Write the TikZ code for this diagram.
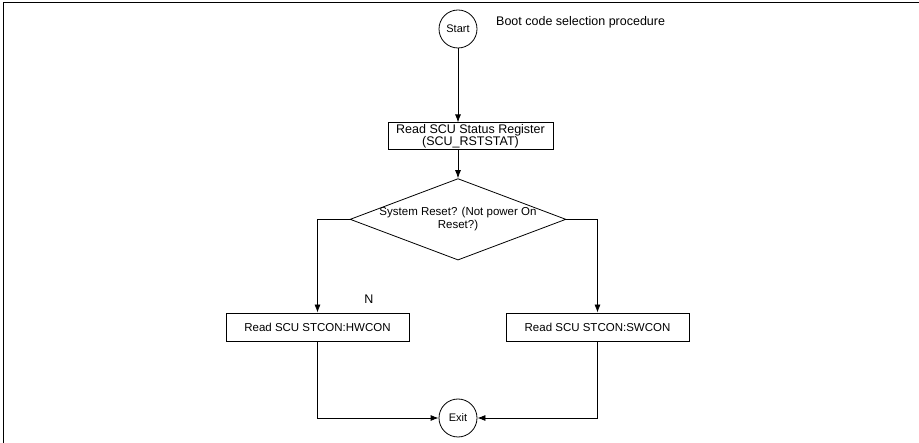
\documentclass[tikz,border=0pt]{standalone}
\usepackage{fontspec}
\setmainfont{Liberation Sans}
\usetikzlibrary{positioning, arrows.meta, shapes.geometric}

\begin{document}
\begin{tikzpicture}[
  x=1pt, y=-1pt,
  font=\fontsize{12.5}{12.5}\selectfont,
  term/.style={circle, draw=black, line width=0.8pt, minimum size=38pt, inner sep=0pt,
               font=\fontsize{11}{12}\selectfont},
  proc/.style={rectangle, draw=black, line width=0.8pt, align=center,
               minimum width=183pt, minimum height=28pt, inner sep=1pt,
               font=\fontsize{11.5}{12}\selectfont},
  check/.style={diamond, draw=black, line width=0.8pt, align=center, aspect=2.65,
                inner xsep=-2pt, inner ysep=0pt, minimum width=215pt, minimum height=81pt,
                font=\fontsize{11.5}{13}\selectfont},
  lab/.style={inner sep=0pt},
  fwd/.style={-{Latex[length=8pt,width=6pt]}, line width=0.8pt, black},
]
\useasboundingbox (0,0) rectangle (919,443);
% frame
\draw[line width=1pt] (3,443) -- (3,3) -- (919,3);

% main flow
\node[term] (start) at (458,29) {Start};
\node[lab, anchor=base west] (title) at (496,26) {Boot code selection procedure};
\node[proc, minimum width=165pt, minimum height=27pt, font=\fontsize{12.5}{12.5}\selectfont,
      below=74pt of start, xshift=12.5pt] (rstat) {Read SCU Status Register\\(SCU\_RSTSTAT)};
\node[check, below=28pt of rstat, xshift=-12.5pt] (sysrst) {System Reset? (Not power On\\Reset?)};

\draw[fwd] (start) -- (start |- rstat.north);
\draw[fwd] (sysrst.north |- rstat.south) -- (sysrst);

% the two branches
\node[proc] (hwcon) at (317.5,327) {Read SCU STCON:HWCON};
\node[proc] (swcon) at (597.5,327) {Read SCU STCON:SWCON};
\node[lab] (nlab) at (369,299) {N};

\draw[fwd] (sysrst.west) -| (hwcon);
\draw[fwd] (sysrst.east) -| (swcon);

% exit
\node[term] (exit) at (458,418) {Exit};
\draw[fwd] (hwcon) |- (exit);
\draw[fwd] (swcon) |- (exit);
\end{tikzpicture}
\end{document}
